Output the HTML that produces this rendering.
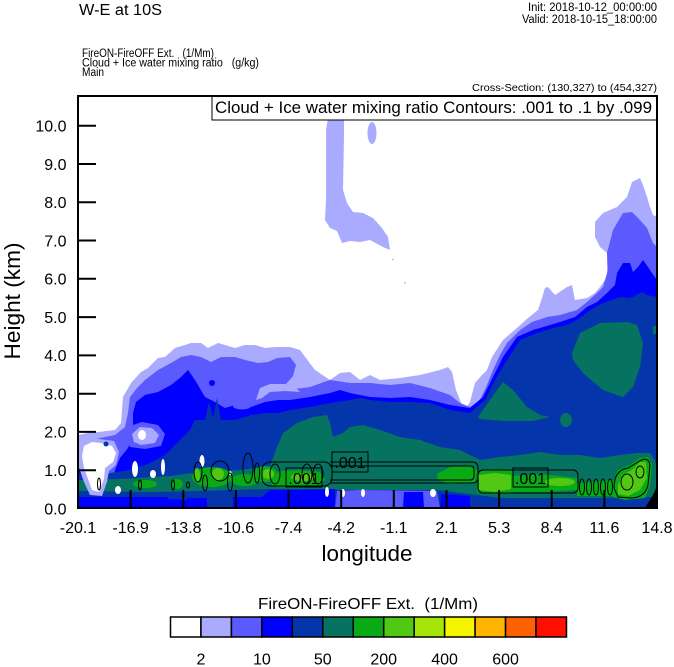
<!DOCTYPE html>
<html>
<head>
<meta charset="utf-8">
<style>
html,body{margin:0;padding:0;background:#fff;}
svg{display:block;}
text{font-family:"Liberation Sans",Arial,Helvetica,sans-serif;fill:#000;white-space:pre;}
</style>
</head>
<body>
<svg width="674" height="667" viewBox="0 0 674 667" xmlns="http://www.w3.org/2000/svg">
<rect x="0" y="0" width="674" height="667" fill="#ffffff"/>

<!-- header texts -->
<text x="79" y="15" font-size="15.5" textLength="83" lengthAdjust="spacingAndGlyphs">W-E at 10S</text>
<text x="657" y="11" font-size="11.5" text-anchor="end" textLength="129" lengthAdjust="spacingAndGlyphs">Init: 2018-10-12_00:00:00</text>
<text x="657" y="23" font-size="11.5" text-anchor="end" textLength="135" lengthAdjust="spacingAndGlyphs">Valid: 2018-10-15_18:00:00</text>
<text x="82" y="57" font-size="11.5" textLength="132" lengthAdjust="spacingAndGlyphs">FireON-FireOFF Ext.   (1/Mm)</text>
<text x="82" y="66.5" font-size="11.5" textLength="177" lengthAdjust="spacingAndGlyphs">Cloud + Ice water mixing ratio   (g/kg)</text>
<text x="82" y="76" font-size="11.5" textLength="22" lengthAdjust="spacingAndGlyphs">Main</text>
<text x="657" y="91" font-size="10.5" text-anchor="end" textLength="185" lengthAdjust="spacingAndGlyphs">Cross-Section: (130,327) to (454,327)</text>

<defs>
<clipPath id="pc"><rect x="78" y="96" width="579" height="412"/></clipPath>
</defs>

<g clip-path="url(#pc)">
<!-- lavender envelope -->
<path fill="#aaaaff" d="M78,508 L78,435 L88,433 L98,432 L115,430 L121,423 L123,397 L131,383 L141,372 L148,368 L158,358 L165,357 L175,348 L185,345 L191,343 L201,343 L208,348 L218,343 L225,345 L235,348 L245,345 L255,345 L265,348 L275,347 L290,347 L300,350 L315,370 L330,380 L340,373 L350,372 L360,380 L370,375 L380,380 L400,378 L420,375 L440,370 L448,367 L452,372 L456,390 L462,405 L466,408 L470,402 L475,383 L482,375 L487,370 L492,357 L503,340 L518,327 L528,318 L538,310 L542,298 L545,288 L548,287 L555,295 L567,287 L572,285 L575,300 L587,298 L595,293 L600,287 L607,277 L607,253 L600,247 L595,237 L595,222 L603,213 L617,207 L627,197 L632,182 L640,178 L643,185 L647,197 L650,207 L653,215 L657,217 L657,508 Z"/>
<!-- upper plume -->
<path fill="#aaaaff" d="M328,118 L344,118 L344,135 L343,190 L347,203 L353,212 L363,213 L373,218 L382,228 L388,237 L390,250 L383,247 L370,240 L360,242 L350,241 L342,243 L337,231 L330,228 L325,220 L326,200 L326,130 Z"/>
<ellipse cx="372" cy="133" rx="4.5" ry="11" fill="#aaaaff"/>
<rect x="392" y="259" width="2" height="1" fill="#aaaaff"/>
<rect x="404" y="282" width="1.5" height="1.5" fill="#aaaaff"/>

<!-- medium blue -->
<path fill="#5a5aff" d="M78,508 L78,443 L91,440 L105,437 L115,435 L125,427 L128,413 L130,397 L138,387 L145,380 L158,370 L171,363 L181,357 L191,355 L201,357 L211,362 L221,357 L235,357 L245,360 L258,363 L268,362 L277,358 L290,357 L296,365 L293,376 L286,384 L295,389 L310,387 L330,380 L350,383 L370,383 L390,385 L410,383 L430,388 L450,395 L460,403 L470,407 L480,400 L487,385 L493,370 L500,355 L507,343 L520,330 L532,322 L547,317 L560,315 L577,310 L587,302 L597,293 L603,287 L608,270 L607,253 L613,230 L623,213 L632,212 L638,218 L647,228 L653,243 L657,247 L657,508 Z"/>
<!-- lavender patch under blob -->
<path fill="#aaaaff" d="M256,400 L260,388 L270,384 L286,384 L296,388 L300,392 L285,391 L270,392 L262,398 Z"/>

<!-- blue -->
<path fill="#0000ff" d="M78,508 L78,455 L82,452 L85,460 L86,500 L110,500 L115,470 L120,458 L128,448 L133,435 L133,413 L136,402 L145,395 L158,392 L171,385 L181,377 L188,370 L195,380 L205,397 L215,402 L225,408 L235,405 L251,407 L265,402 L278,400 L290,400 L310,397 L330,393 L340,390 L350,393 L370,397 L390,398 L410,397 L430,400 L450,405 L470,408 L483,397 L493,377 L503,357 L517,337 L533,330 L550,325 L560,322 L575,317 L587,307 L597,302 L607,293 L615,285 L617,273 L623,263 L630,263 L633,272 L638,267 L643,260 L648,267 L652,273 L657,280 L657,508 Z"/>
<circle cx="212" cy="383" r="3" fill="#0000ff"/>
<ellipse cx="242" cy="406" rx="9" ry="3.5" fill="#5a5aff"/>

<!-- dark blue -->
<path fill="#0535aa" d="M78,508 L78,475 L110,473 L130,470 L150,463 L165,455 L180,440 L190,430 L195,420 L205,420 L209,402 L213,418 L217,398 L221,420 L235,420 L251,415 L265,413 L278,413 L290,410 L310,407 L330,403 L350,400 L360,398 L370,400 L390,402 L410,402 L430,403 L450,410 L470,413 L485,400 L495,380 L507,360 L520,340 L537,333 L553,328 L567,325 L580,318 L590,310 L603,303 L617,298 L623,297 L627,298 L633,297 L642,292 L647,295 L657,297 L657,508 Z"/>

<!-- lavender/white patch mid-left -->
<path fill="#5a5aff" d="M126,440 L130,426 L142,422 L158,425 L165,434 L161,446 L145,449 L130,447 Z"/>
<path fill="#aaaaff" d="M132,434 L140,427 L152,428 L159,435 L155,443 L141,445 L134,442 Z"/>
<ellipse cx="142" cy="435" rx="4" ry="5" fill="#ffffff"/>

<!-- teal -->
<path fill="#05735f" d="M78,491 L78,480 L120,479 L170,476 L200,472 L240,470 L270,466 L277,447 L283,433 L297,423 L313,417 L327,415 L330,423 L333,437 L343,433 L350,427 L363,425 L380,430 L400,437 L420,440 L440,447 L460,450 L480,460 L500,457 L520,455 L540,452 L560,455 L580,455 L600,458 L620,455 L637,453 L650,453 L655,460 L657,470 L657,497 L600,498 L500,498 L437,490 L360,490 L270,489 L200,491 L150,492 Z"/>
<path fill="#05735f" d="M478,417 L490,400 L503,382 L513,390 L527,407 L540,415 L550,417 L533,421 L503,421 L480,419 Z"/>
<ellipse cx="566" cy="420" rx="6" ry="7" fill="#05735f"/>
<path fill="#05735f" d="M572,353 L580,333 L600,323 L627,322 L637,325 L643,343 L640,367 L633,387 L623,397 L603,390 L583,373 L573,360 Z"/>
<rect x="653" y="326" width="4" height="8" fill="#05735f"/>

<!-- green -->
<g fill="#0aaa16">
<ellipse cx="93" cy="484" rx="6" ry="3"/>
<ellipse cx="145" cy="484" rx="12" ry="4"/>
<ellipse cx="177" cy="484" rx="6" ry="5"/>
<ellipse cx="212" cy="477" rx="20" ry="10"/>
<ellipse cx="245" cy="480" rx="14" ry="6"/>
<ellipse cx="265" cy="474" rx="12" ry="8"/>
<path d="M270,478 L280,471 L300,470 L320,472 L325,480 L318,487 L290,488 L272,486 Z"/>
<path d="M437,474 L450,467 L470,465 L477,470 L475,482 L450,484 L438,480 Z"/>
<path d="M477,472 L495,469 L513,471 L513,492 L495,494 L477,492 Z"/>
<path d="M513,476 L540,474 L577,478 L577,490 L545,492 L513,492 Z"/>
<path d="M577,483 L613,480 L613,496 L577,496 Z"/>
<path d="M613,482 L618,470 L630,465 L640,458 L648,457 L652,465 L650,485 L645,498 L625,500 L613,497 Z"/>
</g>
<!-- light green -->
<g fill="#50c814">
<path d="M479,475 L495,473 L511,475 L511,489 L495,492 L479,490 Z"/>
<ellipse cx="560" cy="482" rx="15" ry="4"/>
<path d="M618,485 L622,475 L632,470 L640,462 L646,462 L647,478 L640,490 L628,496 L618,494 Z"/>
<ellipse cx="303" cy="477" rx="12" ry="4"/>
<ellipse cx="197" cy="475" rx="3" ry="7"/>
<ellipse cx="218" cy="474" rx="6" ry="6"/>
<ellipse cx="268" cy="474" rx="6" ry="5"/>
</g>

<!-- bottom strip -->
<path fill="#0000ff" d="M78,508 L78,497 L168,497 L168,508 Z"/>
<path fill="#0000ff" d="M168,508 L168,499 L187,500 L187,508 Z"/>
<path fill="#0000ff" d="M187,508 L187,498 L207,498 L207,508 Z"/>
<path fill="#0000ff" d="M233,508 L233,497 L262,497 L270,490 L335,489 L335,508 Z"/>
<path fill="#5a5aff" d="M335,508 L337,491 L360,490 L437,491 L440,508 Z"/>
<path fill="#0000ff" d="M403,508 L404,492 L423,492 L424,508 Z"/>
<path fill="#0000ff" d="M440,508 L441,494 L470,496 L470,508 Z"/>

<!-- left white blob with lavender rim -->
<path fill="#aaaaff" d="M79,440 L92,438 L114,441 L119,452 L116,465 L109,471 L107,482 L102,496 L90,495 L84,482 L79,468 Z"/>
<path fill="#ffffff" d="M82,456 L84,446 L92,442 L101,443 L112,446 L116,453 L113,462 L105,468 L104,479 L99,492 L92,490 L88,479 L84,468 Z"/>
<circle cx="106" cy="444" r="2.5" fill="#0535aa"/>

<!-- white spots -->
<g fill="#ffffff">
<ellipse cx="118" cy="490" rx="3" ry="4"/>
<ellipse cx="135" cy="469" rx="3" ry="8"/>
<ellipse cx="153" cy="474" rx="3" ry="4"/>
<ellipse cx="163" cy="467" rx="2" ry="8"/>
<ellipse cx="202" cy="461" rx="2.5" ry="6"/>
<ellipse cx="230" cy="473" rx="1.5" ry="2"/>
<ellipse cx="327" cy="492" rx="2" ry="5"/>
<ellipse cx="343" cy="493" rx="2" ry="4"/>
<ellipse cx="363" cy="493" rx="2" ry="4"/>
<ellipse cx="433" cy="493" rx="3" ry="4"/>
</g>

<!-- terrain -->
<path fill="#000000" d="M645,508 L650,500 L654,493 L657,486 L657,508 Z"/>

<!-- contours -->
<g fill="none" stroke="#000" stroke-width="1">
<ellipse cx="99" cy="484" rx="1.5" ry="6"/>
<ellipse cx="140" cy="485" rx="1.5" ry="5"/>
<ellipse cx="173" cy="485" rx="1.5" ry="5"/>
<ellipse cx="188" cy="485" rx="1.5" ry="3"/>
<ellipse cx="198" cy="472" rx="4" ry="10"/>
<ellipse cx="205" cy="483" rx="2.5" ry="8"/>
<ellipse cx="220" cy="471" rx="9" ry="10"/>
<ellipse cx="230" cy="482" rx="2.5" ry="9"/>
<ellipse cx="248" cy="468" rx="5" ry="15"/>
<ellipse cx="257" cy="473" rx="2.5" ry="10"/>
<rect x="262" y="462" width="70" height="24" rx="8"/>
<ellipse cx="275" cy="474" rx="5" ry="10"/>
<ellipse cx="307" cy="474" rx="5" ry="10"/>
<ellipse cx="318" cy="474" rx="5" ry="10"/>
<path d="M330,462 L472,462 Q478,462 478,468 L478,478 Q478,483 472,483 L330,483"/>
<path d="M330,466 L470,466 Q474,466 474,470 L474,476 Q474,480 470,480 L330,480"/>
<rect x="478" y="470" width="100" height="23" rx="5"/>
<ellipse cx="582" cy="487" rx="2.5" ry="8"/>
<ellipse cx="589" cy="487" rx="2.5" ry="8"/>
<ellipse cx="596" cy="487" rx="2.5" ry="8"/>
<ellipse cx="603" cy="487" rx="2.5" ry="8"/>
<ellipse cx="610" cy="487" rx="2.5" ry="8"/>
<path d="M614,488 Q614,470 628,468 L638,462 Q648,455 650,465 L648,485 Q645,498 630,498 L618,497 Z"/>
<ellipse cx="627" cy="482" rx="6" ry="8"/>
<ellipse cx="640" cy="472" rx="4" ry="6"/>
<rect x="332" y="452" width="36" height="20"/>
<rect x="286" y="468" width="36" height="19"/>
<rect x="513" y="468" width="35" height="19"/>
</g>
<text x="350" y="468" font-size="16" text-anchor="middle">.001</text>
<text x="304" y="484" font-size="16" text-anchor="middle">.001</text>
<text x="530.5" y="484" font-size="16" text-anchor="middle">.001</text>
</g>

<!-- contour info box -->
<rect x="212" y="96" width="445" height="24" fill="#ffffff" stroke="#000" stroke-width="1"/>
<text x="215" y="113" font-size="17" textLength="437" lengthAdjust="spacingAndGlyphs">Cloud + Ice water mixing ratio Contours: .001 to .1 by .099</text>

<!-- frame -->
<rect x="78" y="96" width="579" height="412" fill="none" stroke="#000" stroke-width="2"/>

<!-- ticks -->
<g stroke="#000" stroke-width="2">
<line x1="78" y1="470.2" x2="96" y2="470.2"/>
<line x1="78" y1="431.9" x2="96" y2="431.9"/>
<line x1="78" y1="393.7" x2="96" y2="393.7"/>
<line x1="78" y1="355.4" x2="96" y2="355.4"/>
<line x1="78" y1="317.1" x2="96" y2="317.1"/>
<line x1="78" y1="278.8" x2="96" y2="278.8"/>
<line x1="78" y1="240.5" x2="96" y2="240.5"/>
<line x1="78" y1="202.3" x2="96" y2="202.3"/>
<line x1="78" y1="164.0" x2="96" y2="164.0"/>
<line x1="78" y1="125.7" x2="96" y2="125.7"/>
<line x1="130.6" y1="508" x2="130.6" y2="490"/>
<line x1="183.3" y1="508" x2="183.3" y2="490"/>
<line x1="235.9" y1="508" x2="235.9" y2="490"/>
<line x1="288.5" y1="508" x2="288.5" y2="490"/>
<line x1="341.2" y1="508" x2="341.2" y2="490"/>
<line x1="393.8" y1="508" x2="393.8" y2="490"/>
<line x1="446.5" y1="508" x2="446.5" y2="490"/>
<line x1="499.1" y1="508" x2="499.1" y2="490"/>
<line x1="551.7" y1="508" x2="551.7" y2="490"/>
<line x1="604.4" y1="508" x2="604.4" y2="490"/>
</g>

<!-- y labels -->
<g font-size="16" text-anchor="end">
<text x="66.5" y="514.3">0.0</text>
<text x="66.5" y="476">1.0</text>
<text x="66.5" y="437.7">2.0</text>
<text x="66.5" y="399.5">3.0</text>
<text x="66.5" y="361.2">4.0</text>
<text x="66.5" y="322.9">5.0</text>
<text x="66.5" y="284.6">6.0</text>
<text x="66.5" y="246.3">7.0</text>
<text x="66.5" y="208.1">8.0</text>
<text x="66.5" y="169.8">9.0</text>
<text x="66.5" y="131.5">10.0</text>
</g>
<!-- x labels -->
<g font-size="16" text-anchor="middle">
<text x="78" y="533">-20.1</text>
<text x="130.6" y="533">-16.9</text>
<text x="183.3" y="533">-13.8</text>
<text x="235.9" y="533">-10.6</text>
<text x="288.5" y="533">-7.4</text>
<text x="341.2" y="533">-4.2</text>
<text x="393.8" y="533">-1.1</text>
<text x="446.5" y="533">2.1</text>
<text x="499.1" y="533">5.3</text>
<text x="551.7" y="533">8.4</text>
<text x="604.4" y="533">11.6</text>
<text x="657" y="533">14.8</text>
</g>

<text x="367" y="561" font-size="22" text-anchor="middle" textLength="91" lengthAdjust="spacingAndGlyphs">longitude</text>
<text transform="translate(20,301) rotate(-90)" font-size="22" text-anchor="middle" textLength="117" lengthAdjust="spacingAndGlyphs">Height (km)</text>

<!-- colorbar -->
<text x="368" y="609" font-size="16" text-anchor="middle" textLength="220" lengthAdjust="spacingAndGlyphs">FireON-FireOFF Ext.  (1/Mm)</text>
<g stroke="#000" stroke-width="1.5">
<rect x="170.5" y="617" width="30.46" height="20" fill="#ffffff"/>
<rect x="200.96" y="617" width="30.46" height="20" fill="#aaaaff"/>
<rect x="231.42" y="617" width="30.46" height="20" fill="#5a5aff"/>
<rect x="261.88" y="617" width="30.46" height="20" fill="#0000ff"/>
<rect x="292.34" y="617" width="30.46" height="20" fill="#0535aa"/>
<rect x="322.8" y="617" width="30.46" height="20" fill="#05735f"/>
<rect x="353.26" y="617" width="30.46" height="20" fill="#0aaa16"/>
<rect x="383.72" y="617" width="30.46" height="20" fill="#50c814"/>
<rect x="414.18" y="617" width="30.46" height="20" fill="#a5e50a"/>
<rect x="444.64" y="617" width="30.46" height="20" fill="#f5f500"/>
<rect x="475.1" y="617" width="30.46" height="20" fill="#ffb400"/>
<rect x="505.56" y="617" width="30.46" height="20" fill="#ff6000"/>
<rect x="536.02" y="617" width="30.46" height="20" fill="#ff0f00"/>
</g>
<g font-size="16" text-anchor="middle">
<text x="201" y="664.5">2</text>
<text x="261.9" y="664.5">10</text>
<text x="322.8" y="664.5">50</text>
<text x="383.7" y="664.5">200</text>
<text x="444.6" y="664.5">400</text>
<text x="505.6" y="664.5">600</text>
</g>
</svg>
</body>
</html>
